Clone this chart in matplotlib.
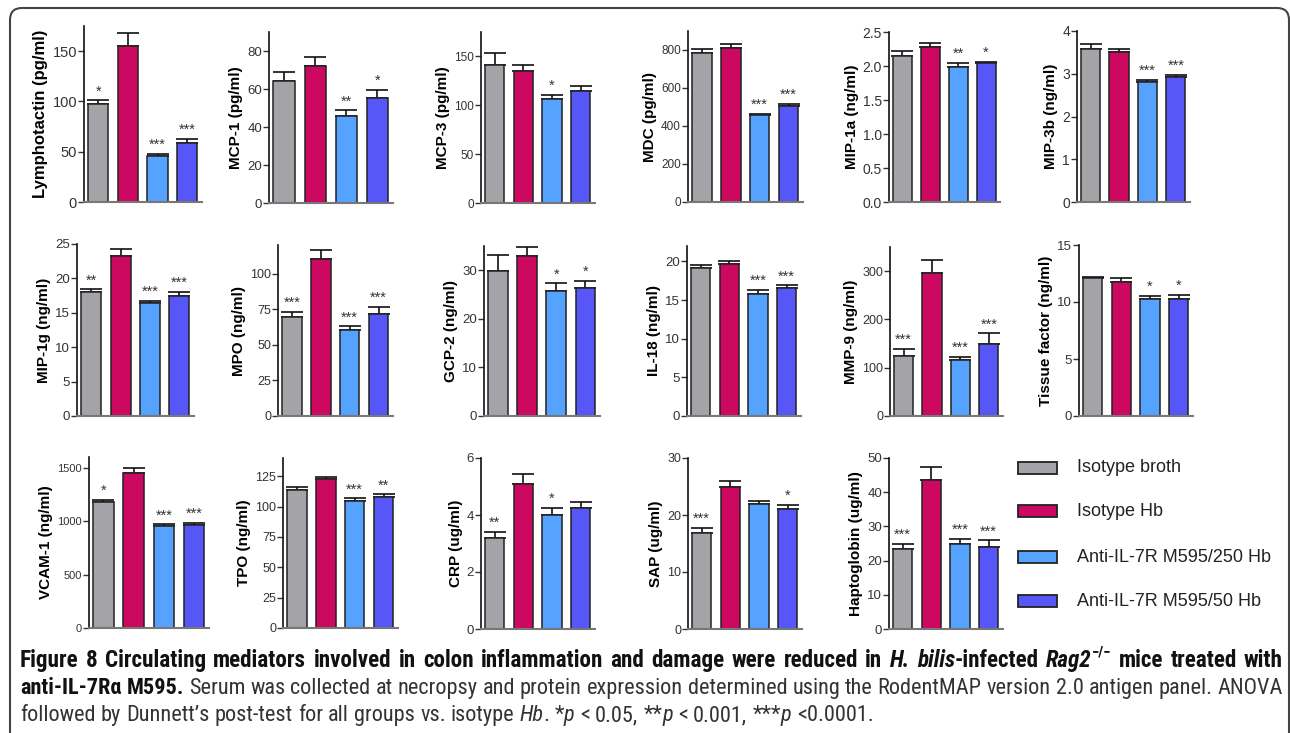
import matplotlib
matplotlib.use('Agg')
import matplotlib.pyplot as plt
from matplotlib.patches import Rectangle, FancyBboxPatch
from matplotlib.transforms import IdentityTransform
from matplotlib.ticker import FormatStrFormatter, MultipleLocator
from matplotlib import font_manager as fm

W, H = 1290, 733

# groups / colours
groups = ['Isotype broth', 'Isotype Hb', 'Anti-IL-7R M595/250 Hb', 'Anti-IL-7R M595/50 Hb']
colors = ['#a3a3a8', '#cc0860', '#55a2ff', '#5757f7']

# analytes (mean, SEM)
labels = ['Lymphotactin (pg/ml)', 'MCP-1 (pg/ml)', 'MCP-3 (pg/ml)', 'MDC (pg/ml)',
          'MIP-1a (ng/ml)', 'MIP-3b (ng/ml)',
          'MIP-1g (ng/ml)', 'MPO (ng/ml)', 'GCP-2 (ng/ml)', 'IL-18 (ng/ml)',
          'MMP-9 (ng/ml)', 'Tissue factor (ng/ml)',
          'VCAM-1 (ng/ml)', 'TPO (ng/ml)', 'CRP (ug/ml)', 'SAP (ug/ml)', 'Haptoglobin (ug/ml)']
means = [[97, 155, 46, 59], [64, 72, 46, 55], [141, 135, 106, 115], [782, 809, 457, 506],
         [2.14, 2.28, 1.98, 2.04], [3.59, 3.51, 2.80, 2.92],
         [18.0, 23.3, 16.4, 17.5], [69.5, 110, 60.6, 71.6], [29.8, 32.9, 25.8, 26.4],
         [19.2, 19.65, 15.8, 16.55], [125, 296, 115, 150], [12.1, 11.75, 10.25, 10.25],
         [1176, 1453, 959, 965], [114, 122.3, 105, 107.8], [3.2, 5.1, 4.0, 4.24],
         [16.8, 24.9, 22.0, 21.1], [23.5, 43.7, 24.8, 23.9]]
sems = [[4, 13, 2, 4], [5, 5, 2.7, 4.6], [12, 6, 4.5, 5], [25, 21, 8, 12],
        [0.08, 0.06, 0.06, 0.025], [0.10, 0.08, 0.05, 0.06],
        [0.4, 1.0, 0.3, 0.5], [3.5, 6.5, 2.3, 4.7], [3.4, 1.9, 1.5, 1.4],
        [0.3, 0.45, 0.5, 0.35], [14, 27, 8, 21], [0.08, 0.33, 0.3, 0.4],
        [25, 41, 10, 22], [2.1, 2.2, 1.7, 2.2], [0.2, 0.33, 0.26, 0.2],
        [0.9, 1.1, 0.45, 0.7], [1.5, 3.6, 1.6, 2.0]]
stars = [['*', '', '***', '***'], ['', '', '**', '*'], ['', '', '*', ''], ['', '', '***', '***'],
         ['', '', '**', '*'], ['', '', '***', '***'],
         ['**', '', '***', '***'], ['***', '', '***', '***'], ['', '', '*', '*'],
         ['', '', '***', '***'], ['***', '', '***', '***'], ['', '', '*', '*'],
         ['*', '', '***', '***'], ['', '', '***', '**'], ['**', '', '*', ''],
         ['***', '', '', '*'], ['***', '', '***', '***']]
ymax = [175, 90, 175, 900, 2.5, 4, 25, 120, 35, 22, 350, 15, 1600, 140, 6, 30, 50]
ystep = [50, 20, 50, 200, 0.5, 1, 5, 25, 10, 5, 100, 5, 500, 25, 2, 10, 10]

# layout: axes boxes in pixels (x0, x1, ytop, ybottom)
boxes = [(84, 202, 26, 202), (269, 393, 32, 203), (481, 595, 32, 203), (688, 803, 31, 202),
         (889, 1000, 32, 202), (1077, 1190, 31, 202),
         (77, 194, 244, 416), (278, 393, 245, 416), (484, 600, 246, 416), (687, 801, 246, 416),
         (890, 1003, 247, 416), (1079, 1193, 245, 416),
         (89, 209, 457, 628), (283, 398, 458, 628), (481, 595, 458, 629), (688, 802, 458, 629),
         (889, 1003, 458, 629)]
tick_fs = [10.5, 9.5, 8.5, 8.5, 10, 10, 9.5, 9, 9.5, 9.5, 9, 9.5, 8, 9, 9.5, 9, 9.5]
label_fs = [12] + [11] * 16

# caption font: prefer a narrow/condensed face if one is installed
ttf = fm.fontManager.ttflist
names = {f.name for f in ttf}
cap_kw = dict(family='Liberation Sans')
for cand in ['Liberation Sans Narrow', 'Roboto Condensed', 'Open Sans Condensed',
             'Noto Sans Condensed', 'DejaVu Sans Condensed']:
    if cand in names:
        cap_kw = dict(family=cand)
        break
else:
    if any(f.name == 'DejaVu Sans' and str(f.stretch) in ('condensed', '300') for f in ttf):
        cap_kw = dict(family='DejaVu Sans', stretch='condensed')

plt.rcParams['font.family'] = ['Liberation Sans', 'DejaVu Sans']

fig = plt.figure(figsize=(W / 100, H / 100), dpi=100)

x = list(range(len(groups)))
for i, (x0, x1, yt, yb) in enumerate(boxes):
    ax = fig.add_axes([x0 / W, (H - yb) / H, (x1 - x0) / W, (yb - yt) / H])
    ax.bar(x, means[i], width=0.68, color=colors, edgecolor='#222222', linewidth=1.1, zorder=2)
    ax.errorbar(x, means[i], yerr=[[0] * 4, sems[i]], fmt='none', ecolor='#111111',
                elinewidth=1.2, capsize=8, capthick=1.2, zorder=1)
    for j in range(4):
        if stars[i][j]:
            ax.annotate(stars[i][j], (x[j], means[i][j] + sems[i][j]), xytext=(0, 1.5),
                        textcoords='offset points', ha='center', va='bottom',
                        fontsize=10.5, color='#333333')
    ax.set_xlim(-0.48, 3.5)
    ax.set_ylim(0, ymax[i])
    ax.yaxis.set_major_locator(MultipleLocator(ystep[i]))
    if ystep[i] < 1:
        ax.yaxis.set_major_formatter(FormatStrFormatter('%.1f'))
    ax.set_xticks([])
    for s in ['top', 'right']:
        ax.spines[s].set_visible(False)
    ax.spines['left'].set_color('#111111')
    ax.spines['left'].set_linewidth(1.2)
    ax.spines['bottom'].set_color('#777777')
    ax.spines['bottom'].set_linewidth(1.5)
    ax.tick_params(axis='y', direction='out', length=4, width=1, color='#333333',
                   labelsize=tick_fs[i], labelcolor='#333333', pad=1)
    ax.set_ylabel(labels[i], fontsize=label_fs[i], fontweight='bold', labelpad=3)
    ax.patch.set_visible(False)

# legend drawn by hand
leg_y = [468, 511, 557, 601]
for c, g, ly in zip(colors, groups, leg_y):
    fig.patches.append(Rectangle((1018 / W, (H - ly - 6) / H), 39 / W, 12 / H,
                                 transform=fig.transFigure, facecolor=c,
                                 edgecolor='#222222', linewidth=1.3))
    fig.text(1077 / W, (H - ly) / H, g, fontsize=13, color='#222222', va='center', ha='left')

# frame
fig.patches.append(FancyBboxPatch((10, -40), 1279, 765, boxstyle='round,pad=0,rounding_size=12',
                                  transform=IdentityTransform(), facecolor='none',
                                  edgecolor='#444444', linewidth=1.5))

# caption
renderer = fig.canvas.get_renderer()


def text_w(s, **kw):
    t = fig.text(0, 0, s + '|', **kw)
    w1 = t.get_window_extent(renderer).width
    t.remove()
    t = fig.text(0, 0, '|', **kw)
    w2 = t.get_window_extent(renderer).width
    t.remove()
    return w1 - w2


B = dict(weight='bold', color='#111111')
BI = dict(weight='bold', style='italic', color='#111111')
R = dict(color='#333333')
I = dict(style='italic', color='#333333')
cap_lines = [
    [('Figure 8 Circulating mediators involved in colon inflammation and damage were reduced in ', B, 0, 1),
     ('H. bilis', BI, 0, 1), ('-infected ', B, 0, 1), ('Rag2', BI, 0, 1),
     ('\u2212/\u2212', B, 0.45, 0.65), (' mice treated with', B, 0, 1)],
    [('anti-IL-7R\u03b1 M595.', B, 0, 1),
     (' Serum was collected at necropsy and protein expression determined using the RodentMAP version 2.0 antigen panel. ANOVA', R, 0, 1)],
    [('followed by Dunnett\u2019s post-test for all groups vs. isotype ', R, 0, 1), ('Hb', I, 0, 1),
     ('. *', R, 0, 1), ('p', I, 0, 1), (' < 0.05, **', R, 0, 1), ('p', I, 0, 1),
     (' < 0.001, ***', R, 0, 1), ('p', I, 0, 1), (' <0.0001.', R, 0, 1)],
]
justify = [True, True, False]
baselines = [667, 694, 721]
cap_x0, cap_x1 = 20, 1283


def tokens(runs):
    out = []
    for s, st, dy, sc in runs:
        parts = s.split(' ')
        for k, p in enumerate(parts):
            if k > 0:
                out.append((' ', st, dy, sc))
            if p:
                out.append((p, st, dy, sc))
    return out


def tok_widths(toks, fs):
    return [text_w(s, fontsize=fs * sc, **cap_kw, **st) for s, st, dy, sc in toks]


fs0 = 12
fits = []
for runs in cap_lines[:2]:
    fits.append(fs0 * (cap_x1 - cap_x0) / sum(tok_widths(tokens(runs), fs0)))
cap_fs = min(fits)
line_fs = [min(fits[0], cap_fs * 1.04), cap_fs, cap_fs]

for runs, yb, jf, lfs in zip(cap_lines, baselines, justify, line_fs):
    toks = tokens(runs)
    ws = tok_widths(toks, lfs)
    nsp = sum(1 for t in toks if t[0] == ' ')
    extra = (cap_x1 - cap_x0 - sum(ws)) / nsp if (jf and nsp) else 0
    xp = cap_x0
    for (s, st, dy, sc), w in zip(toks, ws):
        if s == ' ':
            xp += w + extra
            continue
        fig.text(xp / W, (H - yb + dy * lfs * 100 / 72) / H, s, fontsize=lfs * sc,
                 va='baseline', ha='left', **cap_kw, **st)
        xp += w

fig.savefig('out.png', dpi=100)
